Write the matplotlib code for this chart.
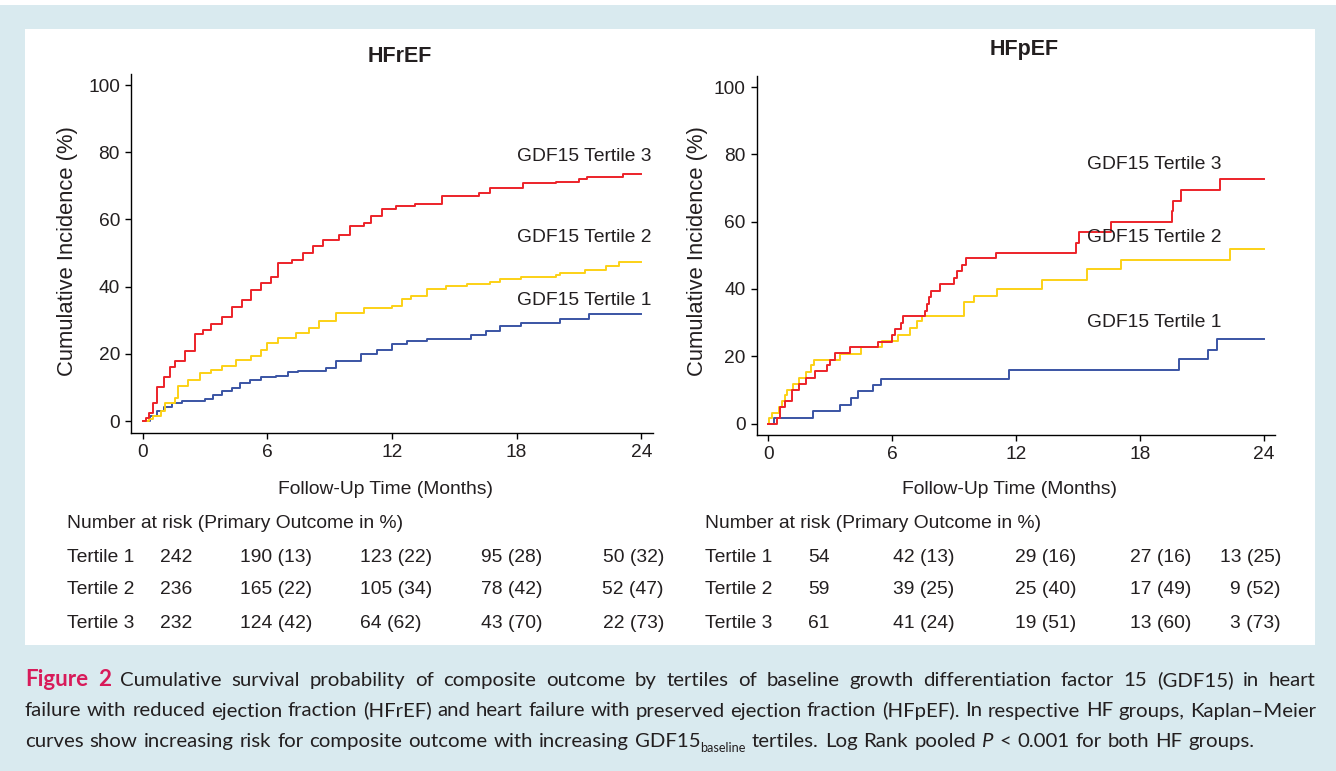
import matplotlib
matplotlib.use('Agg')
from matplotlib import pyplot as plt
from matplotlib.patches import Rectangle

W, H = 1336, 771

BG = '#d9eaef'
TXT = '#231f20'
FIG_RED = '#d81b5a'
RED = '#ec2229'
YELLOW = '#fcd116'
BLUE = '#3a54a4'

month_ticks = [0, 6, 12, 18, 24]
inc_ticks = [0, 20, 40, 60, 80, 100]

# HFrEF (months, cumulative incidence in %)
hfref_t1_time = [0, 0.34, 0.7, 1.03, 1.4, 1.9, 3.0, 3.4, 3.8, 4.3, 4.7, 5.15, 5.7, 6.4, 7.0, 7.5,
                 8.8, 9.3, 10.5, 11.3, 12.0, 12.7, 13.7, 15.8, 16.5, 17.2, 18.2, 20.1, 21.5, 24]
hfref_t1_inc = [0, 1.4, 3, 4.2, 5.4, 5.9, 6.7, 7.7, 8.9, 9.9, 11.3, 12.3, 13.0, 13.5, 14.5, 15.0,
                15.8, 17.8, 20.1, 21.3, 22.8, 23.8, 24.5, 25.5, 26.8, 28.3, 29.3, 30.3, 32.0, 32.0]

hfref_t2_time = [0, 0.3, 0.5, 0.86, 1.1, 1.55, 1.7, 2.2, 2.75, 3.3, 3.8, 4.5, 5.2, 5.7, 6.0, 6.5,
                 7.4, 8.0, 8.5, 9.3, 10.65, 12.0, 12.5, 12.9, 13.7, 14.6, 15.6, 16.7, 17.2, 18.2,
                 19.9, 20.1, 21.3, 22.3, 22.9, 24]
hfref_t2_inc = [0, 0.5, 1.4, 3, 5.4, 7, 10.3, 12.3, 14.3, 15.3, 16.3, 18.3, 19.3, 21.3, 23.3, 24.8,
                26.3, 27.8, 29.8, 32.2, 33.7, 34.2, 36.2, 37.2, 39.2, 40.2, 40.7, 41.4, 42.2, 42.9,
                43.4, 44.2, 45.0, 46.2, 47.2, 47.2]

hfref_t3_time = [0, 0.15, 0.3, 0.5, 0.7, 1.03, 1.3, 1.55, 2.06, 2.5, 2.9, 3.3, 3.8, 4.3, 4.8, 5.2,
                 5.7, 6.2, 6.5, 7.2, 7.7, 8.2, 8.7, 9.45, 9.96, 10.65, 11.0, 11.5, 12.2, 13.1, 14.4,
                 16.2, 16.7, 18.3, 19.9, 21.0, 21.4, 23.1, 24]
hfref_t3_inc = [0, 1, 2.5, 5.4, 10, 13, 16, 18, 21, 26, 27, 29, 31, 34, 36, 39,
                41, 43, 47, 48, 50, 52, 54, 55.4, 58, 59, 61, 63, 64, 64.6, 67,
                68, 69.5, 70.8, 71.3, 72, 72.7, 73.4, 73.4]

# HFpEF
hfpef_t1_time = [0, 0.29, 2.17, 3.47, 4.03, 4.34, 5.06, 5.46, 11.68, 19.88, 21.3, 21.75, 24]
hfpef_t1_inc = [0, 1.7, 3.7, 5.6, 7.6, 9.7, 11.4, 13.3, 16.0, 19.1, 22.0, 25.2, 25.2]

hfpef_t2_time = [0, 0.03, 0.17, 0.52, 0.68, 0.81, 0.9, 1.21, 1.47, 1.85, 2.08, 2.2, 3.5, 4.5, 5.49,
                 6.31, 6.88, 7.23, 7.43, 9.48, 9.95, 11.07, 13.26, 15.46, 17.1, 22.36, 24]
hfpef_t2_inc = [0, 1.7, 3.2, 4.9, 6.7, 8.4, 10.1, 11.8, 13.5, 15.3, 17.3, 18.8, 20.7, 22.7, 24.5,
                26.4, 28.4, 30.4, 32.1, 36.0, 38.0, 40.0, 42.7, 45.8, 48.7, 51.9, 51.9]

hfpef_t3_time = [0, 0.43, 0.55, 0.81, 1.13, 1.16, 1.51, 1.82, 2.29, 2.86, 2.98, 3.24, 3.97, 5.32,
                 6.01, 6.13, 6.45, 6.53, 7.57, 7.69, 7.78, 7.89, 8.32, 9.0, 9.13, 9.39, 9.6, 11.04,
                 14.9, 15.03, 16.62, 19.53, 19.58, 19.97, 21.9, 24]
hfpef_t3_inc = [0, 1.7, 4.9, 6.7, 8.4, 10.1, 11.8, 13.5, 15.5, 17.3, 18.8, 20.9, 22.7, 24.2,
                26.2, 28.1, 29.9, 31.9, 33.6, 35.5, 37.5, 39.5, 41.5, 43.2, 45.2, 47.1, 49.1, 50.6,
                53.8, 57.0, 59.9, 63.2, 66.1, 69.3, 72.8, 72.8]

curve_names = ['GDF15 Tertile 1', 'GDF15 Tertile 2', 'GDF15 Tertile 3']
risk_rows = ['Tertile 1', 'Tertile 2', 'Tertile 3']
hfref_risk = [['242', '190 (13)', '123 (22)', '95 (28)', '50 (32)'],
              ['236', '165 (22)', '105 (34)', '78 (42)', '52 (47)'],
              ['232', '124 (42)', '64 (62)', '43 (70)', '22 (73)']]
hfpef_risk = [['54', '42 (13)', '29 (16)', '27 (16)', '13 (25)'],
              ['59', '39 (25)', '25 (40)', '17 (49)', '9 (52)'],
              ['61', '41 (24)', '19 (51)', '13 (60)', '3 (73)']]

caption_1 = 'Cumulative survival probability of composite outcome by tertiles of baseline growth differentiation factor 15 (GDF15) in heart'
caption_2 = 'failure with reduced ejection fraction (HFrEF) and heart failure with preserved ejection fraction (HFpEF). In respective HF groups, Kaplan\u2013Meier'
caption_3a = 'curves show increasing risk for composite outcome with increasing GDF15'
caption_3b = 'tertiles. Log Rank pooled'
caption_3c = '< 0.001 for both HF groups.'

plt.rcParams['font.family'] = ['Liberation Sans', 'DejaVu Sans']

fig = plt.figure(figsize=(W / 100, H / 100), dpi=100)
fig.patch.set_facecolor('white')
fig.patches.append(Rectangle((0, 0), 1, 1 - 5 / H, transform=fig.transFigure,
                             facecolor=BG, edgecolor='none', zorder=-2))
fig.patches.append(Rectangle((25 / W, 1 - 645 / H), 1290 / W, 616 / H, transform=fig.transFigure,
                             facecolor='white', edgecolor='none', zorder=-1))


def px_text(x, y, s, **kw):
    kw.setdefault('color', TXT)
    return fig.text(x / W, 1 - y / H, s, **kw)


def axes_px(left, top, right, bottom):
    return fig.add_axes([left / W, 1 - bottom / H, (right - left) / W, (bottom - top) / H])


def km_panel(ax, curves, label_x, label_y):
    for t, v, c in curves:
        ax.step(t, v, where='post', color=c, lw=1.4)
    for name, y in zip(curve_names, label_y):
        ax.text(label_x, y, name, fontsize=13.9, color=TXT, va='center', ha='left')
    ax.set_xlim(-0.56, 24.56)
    ax.set_ylim(-3.4, 103.3)
    ax.set_xticks(month_ticks)
    ax.set_yticks(inc_ticks)
    ax.spines['top'].set_visible(False)
    ax.spines['right'].set_visible(False)
    ax.spines['left'].set_linewidth(1.0)
    ax.spines['bottom'].set_linewidth(1.0)
    ax.tick_params(direction='out', length=4, width=1, labelsize=13.8, labelcolor=TXT)
    ax.tick_params(axis='y', pad=4)
    ax.tick_params(axis='x', pad=4)
    ax.patch.set_alpha(0)


ax1 = axes_px(131, 74, 653, 432.5)
km_panel(ax1, [(hfref_t1_time, hfref_t1_inc, BLUE), (hfref_t2_time, hfref_t2_inc, YELLOW),
               (hfref_t3_time, hfref_t3_inc, RED)], 18.0, [36.0, 54.5, 78.6])

ax2 = axes_px(756.6, 76, 1275.4, 435)
km_panel(ax2, [(hfpef_t1_time, hfpef_t1_inc, BLUE), (hfpef_t2_time, hfpef_t2_inc, YELLOW),
               (hfpef_t3_time, hfpef_t3_inc, RED)], 15.43, [30.0, 55.2, 76.9])

# titles and axis labels
px_text(400, 57, 'HFrEF', fontsize=15.5, weight='bold', ha='center', va='center')
px_text(1024, 50, 'HFpEF', fontsize=15.5, weight='bold', ha='center', va='center')
for x in (67, 697):
    px_text(x, 251, 'Cumulative Incidence (%)', fontsize=15.8, rotation=90, ha='center', va='center')
px_text(386, 490, 'Follow-Up Time (Months)', fontsize=13.9, ha='center', va='center')
px_text(1009, 490, 'Follow-Up Time (Months)', fontsize=13.9, ha='center', va='center')

# number at risk tables
row_y = [557, 590, 624]
tables = [(67, [160, 240, 360, 481], 664, hfref_risk),
          (705, [808, 893, 1015, 1130], 1281, hfpef_risk)]
for x0, cols, x_last, data in tables:
    px_text(x0, 523, 'Number at risk (Primary Outcome in %)', fontsize=13.9, va='center')
    for y, name, row in zip(row_y, risk_rows, data):
        px_text(x0, y, name, fontsize=13.9, va='center')
        for x, val in zip(cols, row[:4]):
            px_text(x, y, val, fontsize=13.9, va='center')
        px_text(x_last, y, row[4], fontsize=13.9, va='center', ha='right')

# caption, justified by hand
renderer = fig.canvas.get_renderer()
cap_x0, cap_x1 = 25, 1316
cap_base = [686, 716.5, 747]


def text_width(s, **kw):
    t = px_text(0, 0, s, **kw)
    w = t.get_window_extent(renderer).width
    t.remove()
    return w


cap_size = 15.5
line2_words = caption_2.split()
sp = text_width('a a', family='Lato', size=cap_size) - text_width('aa', family='Lato', size=cap_size)
nat = sum(text_width(w, family='Lato', size=cap_size) for w in line2_words) + sp * (len(line2_words) - 1)
if nat > (cap_x1 - cap_x0) * 0.995:
    cap_size *= (cap_x1 - cap_x0) * 0.995 / nat


def caption_line(pieces, y, justify):
    # pieces: (text, style, glued_to_previous)
    widths = []
    for s, style, glued in pieces:
        kw = dict(family='Lato', size=cap_size)
        if style == 'fig':
            kw.update(weight='bold', size=cap_size * 1.1)
        elif style == 'it':
            kw.update(style='italic')
        elif style == 'sub':
            kw.update(size=cap_size * 0.62)
        widths.append((s, style, glued, kw, text_width(s, **kw)))
    space = text_width('a a', family='Lato', size=cap_size) - text_width('aa', family='Lato', size=cap_size)
    n_gaps = sum(1 for p in pieces[1:] if not p[2])
    if justify:
        gap = (cap_x1 - cap_x0 - sum(w[4] for w in widths)) / n_gaps
    else:
        gap = space * 1.15
    x = cap_x0
    for i, (s, style, glued, kw, w) in enumerate(widths):
        if i > 0 and not glued:
            x += gap
        color = FIG_RED if style == 'fig' else TXT
        yy = y + 5 if style == 'sub' else y
        px_text(x, yy, s, va='baseline', ha='left', color=color, **kw)
        x += w


line1 = [('Figure', 'fig', False), ('2', 'fig', False)] + [(w, 'n', False) for w in caption_1.split()]
line2 = [(w, 'n', False) for w in line2_words]
line3 = ([(w, 'n', False) for w in caption_3a.split()] + [('baseline', 'sub', True)] +
         [(w, 'n', False) for w in caption_3b.split()] + [('P', 'it', False)] +
         [(w, 'n', False) for w in caption_3c.split()])
caption_line(line1, cap_base[0], True)
caption_line(line2, cap_base[1], True)
caption_line(line3, cap_base[2], False)

fig.savefig('out.png', dpi=100, facecolor=fig.get_facecolor())
